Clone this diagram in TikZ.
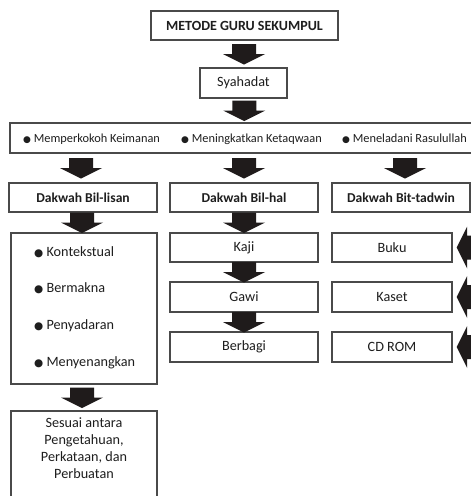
\documentclass[tikz,border=0pt]{standalone}
\usepackage{fontspec}
\setmainfont{Carlito}
\newfontfamily\symfont{DejaVu Sans}
\usetikzlibrary{calc}
\definecolor{edge}{HTML}{4A4A4A}
\definecolor{ink}{HTML}{1F1B1B}
\definecolor{txt}{HTML}{1E1E1E}
% round bullets used in the lists
\newcommand{\bul}{{\symfont\fontsize{9}{9}\selectfont ●}}
\newcommand{\bigbul}{{\symfont\fontsize{10.5}{10}\selectfont ●}}

\tikzset{
  pics/downarrow/.style={code={
    \fill[ink] (-12,-10) -- (12,-10) -- (12,0) -- (21,0) -- (0,10.5)
      -- (-21,0) -- (-12,0) -- cycle;}},
  pics/leftarrow/.style={code={
    \fill[ink] (20,-12) -- (20,12) -- (0,12) -- (0,21) -- (-10.5,0)
      -- (0,-21) -- (0,-12) -- cycle;}},
}

\begin{document}
\begin{tikzpicture}[x=1pt,y=-1pt,
  every node/.style={font=\fontsize{14.2}{16.8}\selectfont, text=txt},
  box/.style={draw=edge, line width=1.3pt, fill=white, inner sep=0pt},
  head/.style={font=\fontsize{13.6}{16.6}\selectfont\bfseries},
  aim/.style={anchor=base west, inner sep=0pt, font=\fontsize{12.35}{15}\selectfont},
  item/.style={anchor=base west, inner sep=0pt},
]
\useasboundingbox (0,0) rectangle (471,496);
\fill[white] (0,0) rectangle (471,496);
\clip (0,0) rectangle (471,496);

% top of the chart
\node[box, head, font=\fontsize{14}{16}\selectfont\bfseries, minimum width=187, minimum height=29] (metode) at (244.5,25.5) {METODE GURU SEKUMPUL};
\node[box, minimum width=87, minimum height=30] (syahadat) at (243.5,83) {Syahadat};

% band with the three aims
\node[box, minimum width=470, minimum height=30] (band) at (245,138) {};
\node[aim] (aim1) at (23,142.4) {\bul\ Memperkokoh Keimanan};
\node[aim] (aim2) at (181,142.4) {\bul\ Meningkatkan Ketaqwaan};
\node[aim] (aim3) at (342,142.4) {\bul\ Meneladani Rasulullah};

% three kinds of dakwah
\node[box, head, minimum width=148, minimum height=29] (lisan) at (83,197.5) {Dakwah Bil-lisan};
\node[box, head, minimum width=148, minimum height=29] (hal) at (244,197.5) {Dakwah Bil-hal};
\node[box, head, minimum width=138, minimum height=29] (tadwin) at (401,197.5) {Dakwah Bit-tadwin};

% left column
\node[box, minimum width=146, minimum height=151] (sifat) at (84,308.5) {};
\node[item] (s1) at (34,256.8) {\bigbul\ Kontekstual};
\node[item] (s2) at (34,292.8) {\bigbul\ Bermakna};
\node[item] (s3) at (34,329.8) {\bigbul\ Penyadaran};
\node[item] (s4) at (34,366.8) {\bigbul\ Menyenangkan};
\node[box, minimum width=146, minimum height=94] (sesuai) at (84,458) {};
\node[anchor=north, align=center, inner sep=0pt] (sesuaitext) at (84,418)
  {Sesuai antara\\Pengetahuan,\\Perkataan, dan\\Perbuatan};

% middle column
\node[box, minimum width=148, minimum height=29] (kaji) at (244,247.5) {Kaji};
\node[box, minimum width=148, minimum height=30] (gawi) at (244,297) {Gawi};
\node[box, minimum width=148, minimum height=30] (berbagi) at (244,347) {Berbagi};

% right column
\node[box, minimum width=120, minimum height=29] (buku) at (392,247.5) {Buku};
\node[box, minimum width=120, minimum height=30] (kaset) at (392,297) {Kaset};
\node[box, minimum width=120, minimum height=30] (cdrom) at (392,347) {CD ROM};

% block arrows
\pic at ($(metode.south)!0.5!(syahadat.north)$) {downarrow};
\pic at ($(syahadat.south)!0.5!(band.north)$) {downarrow};
\pic at ($(band.south -| 81,0)!0.5!(lisan.north -| 81,0)$) {downarrow};
\pic at ($(band.south -| hal.north)!0.5!(hal.north)$) {downarrow};
\pic at ($(band.south -| 405,0)!0.5!(tadwin.north -| 405,0)$) {downarrow};
\pic at ($(lisan.south -| 82,0)!0.5!(sifat.north -| 82,0)$) {downarrow};
\pic at ($(sifat.south -| 82,0)!0.5!(sesuai.north -| 82,0)$) {downarrow};
\pic at ($(hal.south)!0.5!(kaji.north)$) {downarrow};
\pic at ($(kaji.south)!0.5!(gawi.north)$) {downarrow};
\pic at ($(gawi.south)!0.5!(berbagi.north)$) {downarrow};
\pic at ($(buku.east)+(14.5,0)$) {leftarrow};
\pic at ($(kaset.east)+(14.5,0)$) {leftarrow};
\pic at ($(cdrom.east)+(14.5,0)$) {leftarrow};
\end{tikzpicture}
\end{document}
